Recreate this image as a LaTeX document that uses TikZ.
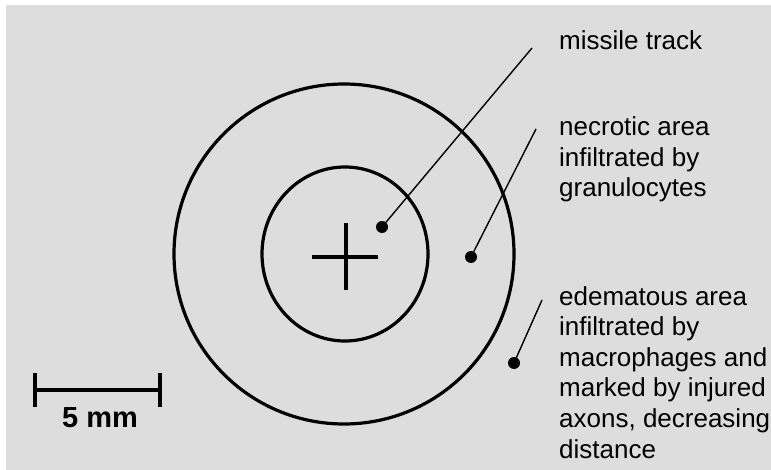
\documentclass[tikz,border=0pt]{standalone}
\usepackage{fontspec}
\setmainfont{Liberation Sans}
\usetikzlibrary{positioning}

\definecolor{paper}{RGB}{221,221,221}

\begin{document}
\begin{tikzpicture}[
  x=1pt, y=-1pt,
  font=\fontsize{26}{30.6}\selectfont,
  ring/.style={line width=3.2pt},
  leader/.style={line width=1.4pt},
  dot/.style={circle, fill, inner sep=0pt, minimum size=12pt},
  label/.style={anchor=base west, align=left, inner sep=0pt}
]
\useasboundingbox (0,0) rectangle (771,470);
\fill[white] (0,0) rectangle (771,470);
\fill[paper] (6,5) rectangle (771,470);

% wound zones
\coordinate (ctr) at (344,254);
\draw[ring] (ctr) circle[radius=170pt];
\draw[ring] (345,254) ellipse[x radius=83pt, y radius=87pt];
\draw[ring] (312,257) -- (378,257);
\draw[ring] (346,223) -- (346,290);

% markers
\node[dot] (track) at (382,227) {};
\node[dot] (necro) at (471,257) {};
\node[dot] (edema) at (514,363) {};

\coordinate (trackend) at (532,48);
\coordinate (necroend) at (536,129);
\coordinate (edemaend) at (542,300);

% base anchor sits on the last line
\node[label] (tracklbl) at (559,50) {missile track};
\node[label] (necrolbl) at (559,197)
  {necrotic area\\infiltrated by\\granulocytes};
\node[label] (edemalbl) at (559,458)
  {edematous area\\infiltrated by\\macrophages and\\marked by injured\\axons, decreasing\\distance};

\draw[leader] (track.center) -- (trackend);
\draw[leader] (necro.center) -- (necroend);
\draw[leader] (edema.center) -- (edemaend);

% scale bar
\coordinate (barL) at (35,390);
\coordinate (barR) at (160,390);
\draw[ring] (barL) -- (barR);
\draw[ring] ([yshift=-17pt]barL) -- ([yshift=17pt]barL);
\draw[ring] ([yshift=-17pt]barR) -- ([yshift=17pt]barR);
\node[anchor=base, inner sep=0pt, font=\fontsize{29}{32}\selectfont\bfseries]
  (barlbl) at (100,427) {5 mm};
\end{tikzpicture}
\end{document}
